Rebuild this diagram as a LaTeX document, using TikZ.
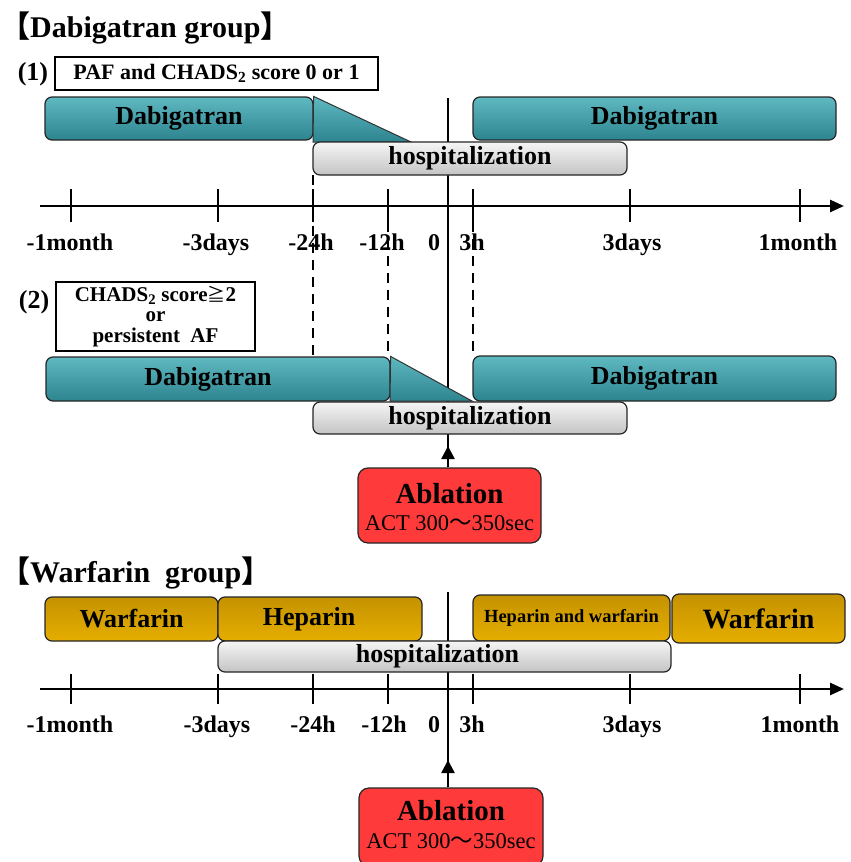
\documentclass[tikz,border=0pt]{standalone}
\usepackage{fontspec}
\setmainfont{Liberation Serif}
\newfontfamily\cjk{Noto Sans CJK JP}
\usetikzlibrary{arrows.meta}
\definecolor{tealtop}{RGB}{95,185,193}
\definecolor{tealmid}{RGB}{80,168,177}
\definecolor{tealbot}{RGB}{45,132,143}
\definecolor{goldtop}{RGB}{196,146,0}
\definecolor{goldmid}{RGB}{238,182,0}
\definecolor{goldbot}{RGB}{230,174,0}
\definecolor{graytop}{RGB}{245,245,245}
\definecolor{graybot}{RGB}{196,196,196}
\definecolor{ablred}{RGB}{255,58,58}
\begin{document}
\begin{tikzpicture}[x=1pt,y=-1pt,
  bar/.style={draw=black!85, line width=1.2pt, rounded corners=7pt, inner sep=0pt},
  dab/.style={bar, top color=tealtop, middle color=tealmid, bottom color=tealbot, font=\bfseries\fontsize{26}{26}\selectfont},
  taper/.style={draw=black!80, line width=1pt, top color=tealtop, bottom color=tealbot},
  gold/.style={bar, top color=goldtop, middle color=goldmid, bottom color=goldbot, font=\bfseries\fontsize{26}{26}\selectfont},
  hosp/.style={bar, top color=graytop, bottom color=graybot, font=\bfseries\fontsize{26}{26}\selectfont},
  abl/.style={bar, fill=ablred, rounded corners=10pt},
  crit/.style={draw=black, line width=1.2pt, fill=white, inner sep=0pt},
  axisline/.style={line width=2.6pt, -{Triangle[length=14pt,width=12pt]}},
  tick/.style={line width=2.6pt},
  lab/.style={font=\bfseries\fontsize{24}{24}\selectfont, inner sep=0pt, anchor=base},
  vline/.style={line width=2.4pt},
  dline/.style={line width=2.4pt, dash pattern=on 10pt off 7pt},
  ttl/.style={font=\bfseries\fontsize{30}{30}\selectfont, inner sep=0pt, anchor=west},
  num/.style={font=\bfseries\fontsize{26}{26}\selectfont, inner sep=0pt}
]
\useasboundingbox[fill=white] (0,0) rectangle (851,862);

% ---------- Dabigatran group ----------
\node[ttl] (t1) at (0,28) {{\cjk 【}Dabigatran group{\cjk 】}};
\node[num] (n1) at (33,74) {(1)};
\node[crit, minimum width=323pt, minimum height=33pt, font=\bfseries\fontsize{22}{22}\selectfont] (c1) at (216.5,73.5) {PAF and CHADS\textsubscript{2} score 0 or 1};

% vertical zero line and dashed guides
\coordinate (v1top) at (448,98);
\coordinate (tip1) at (448,446);
\node[abl, minimum width=183pt, minimum height=75pt] (abl1) at (449.5,505.5) {};
\node[font=\bfseries\fontsize{29}{29}\selectfont, inner sep=0pt] (abl1a) at (449.5,494) {Ablation};
\node[font=\fontsize{22.5}{22.5}\selectfont, inner sep=0pt] (abl1b) at (449.5,523) {ACT 300{\cjk 〜}350sec};
\draw[vline] (abl1.north -| tip1) -- (v1top);
\draw[vline, -{Triangle[length=13pt,width=13pt]}] (abl1.north -| tip1) -- (tip1);

\coordinate (da) at (313,175); \coordinate (da2) at (313,357);
\coordinate (db) at (388,222); \coordinate (db2) at (388,357);
\coordinate (dc) at (473,222); \coordinate (dc2) at (473,357);
\draw[dline] (da) -- (da2);
\draw[dline] (db) -- (db2);
\draw[dline] (dc) -- (dc2);

% axis 1
\coordinate (a1l) at (40,206); \coordinate (a1r) at (844,206);
\draw[axisline] (a1l) -- (a1r);
\foreach \x in {71,218,313,388,473,630,800}{
  \draw[tick] (\x,189) -- (\x,222);
}
\foreach \x/\t/\n in {70/-1month/a,216/-3days/b,311/-24h/c,382/-12h/d,434/0/e,472/3h/f,632/3days/g,798/1month/h}{
  \node[lab] (l1\n) at (\x,250) {\t};
}

% bars (1)
\node[dab, minimum width=268pt, minimum height=43pt] (d1a) at (179,118.5) {Dabigatran};
\draw[taper] (d1a.north east) -- (313,142) -- (411,142) -- cycle;
\node[hosp, minimum width=314pt, minimum height=33pt] (h1) at (470,158.5) {hospitalization};
\node[dab, minimum width=363pt, minimum height=43pt] (d1b) at (654.5,118.5) {Dabigatran};

% (2)
\node[num] (n2) at (34,302) {(2)};
\node[crit, minimum width=199pt, minimum height=69pt, align=center, font=\bfseries\fontsize{21}{20.5}\selectfont] (c2) at (155.5,316.5) {CHADS\textsubscript{2} score{\mdseries\cjk\fontsize{18}{18}\selectfont ≧}2\\or\\persistent\ \ AF};

\node[dab, minimum width=344pt, minimum height=44pt] (d2a) at (218,379) {\hspace*{-20pt}Dabigatran};
\draw[taper] (d2a.north east) -- (390,401) -- (472,401) -- cycle;
\node[dab, minimum width=363pt, minimum height=45pt] (d2b) at (654.5,378.5) {Dabigatran};
\node[hosp, minimum width=314pt, minimum height=32pt] (h2) at (470,418) {hospitalization};

% ---------- Warfarin group ----------
\node[ttl] (t2) at (0,573) {{\cjk 【}Warfarin\ \ group{\cjk 】}};

\coordinate (v2top) at (448,592);
\coordinate (tip2) at (448,760);
\node[abl, minimum width=184pt, minimum height=78pt] (abl2) at (451,827) {};
\node[font=\bfseries\fontsize{29}{29}\selectfont, inner sep=0pt] (abl2a) at (451,811) {Ablation};
\node[font=\fontsize{22.5}{22.5}\selectfont, inner sep=0pt] (abl2b) at (451,841) {ACT 300{\cjk 〜}350sec};
\draw[vline] (abl2.north -| tip2) -- (v2top);
\draw[vline, -{Triangle[length=13pt,width=13pt]}] (abl2.north -| tip2) -- (tip2);

% axis 2
\coordinate (a2l) at (40,689); \coordinate (a2r) at (844,689);
\draw[axisline] (a2l) -- (a2r);
\foreach \x in {71,218,313,388,473,630,800}{
  \draw[tick] (\x,674) -- (\x,704);
}
\foreach \x/\t/\n in {70/-1month/a,217/-3days/b,313/-24h/c,384/-12h/d,434/0/e,472/3h/f,632/3days/g,800/1month/h}{
  \node[lab] (l2\n) at (\x,732) {\t};
}

% bars warfarin
\node[gold, minimum width=173pt, minimum height=44pt] (w1) at (131.5,619) {Warfarin};
\node[gold, minimum width=204pt, minimum height=44pt] (hp) at (320,619) {\hspace*{-22pt}Heparin};
\node[gold, minimum width=197pt, minimum height=46pt, font=\bfseries\fontsize{18.5}{18.5}\selectfont] (hw) at (571.5,618) {Heparin and warfarin};
\node[gold, minimum width=173pt, minimum height=49pt, font=\bfseries\fontsize{28}{28}\selectfont] (w2) at (758.5,618.5) {Warfarin};
\node[hosp, minimum width=453pt, minimum height=31pt] (h3) at (444.5,656.5) {\hspace*{-14pt}hospitalization};
\end{tikzpicture}
\end{document}
